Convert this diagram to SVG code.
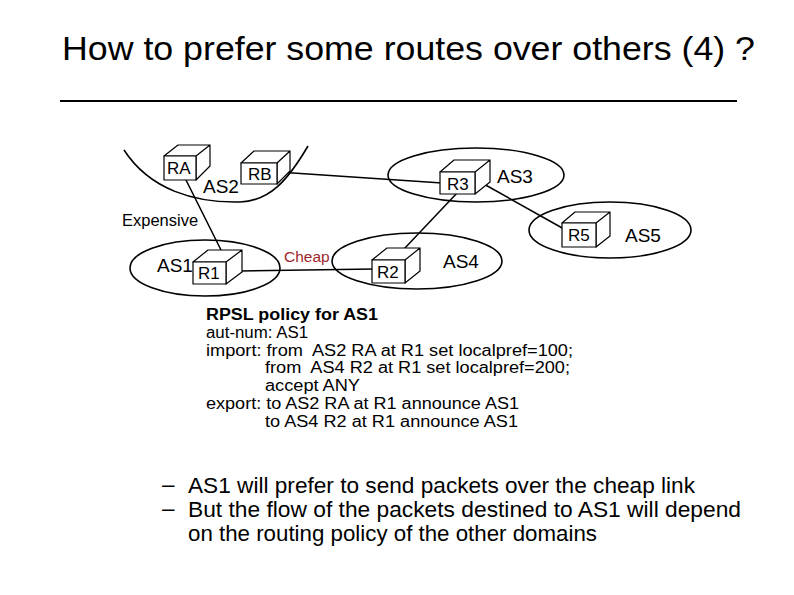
<svg xmlns="http://www.w3.org/2000/svg" width="794" height="595" viewBox="0 0 794 595">
<style>
text{font-family:"Liberation Sans",Arial,sans-serif;fill:#000}
.as{fill:none;stroke:#000;stroke-width:1.6}
.box{fill:#fff;stroke:#000;stroke-width:1.2;stroke-linejoin:round}
.lnk{stroke:#000;stroke-width:1.5;fill:none}
.rl{font-size:17px}
.al{font-size:19px}
.pol{font-size:16px}
.bul{font-size:22.5px}
</style>
<rect width="794" height="595" fill="#fff"/>
<text x="62" y="60" font-size="33" textLength="693" lengthAdjust="spacingAndGlyphs">How to prefer some routes over others (4) ?</text>
<line x1="60" y1="101" x2="737" y2="101" stroke="#000" stroke-width="2"/>

<g id="AS2"><path class="as" d="M124,150 C150,190 195,203 240,202 C270,201 288,180 308,146"/><text class="al" x="203" y="193">AS2</text></g>
<g id="AS3"><ellipse class="as" cx="476" cy="175" rx="88" ry="27"/><text class="al" x="497" y="183">AS3</text></g>
<g id="AS5"><ellipse class="as" cx="610" cy="230" rx="81" ry="28"/><text class="al" x="625" y="242">AS5</text></g>
<g id="AS4"><ellipse class="as" cx="417" cy="261" rx="85" ry="28"/><text class="al" x="443" y="268">AS4</text></g>
<g id="AS1"><ellipse class="as" cx="205" cy="268" rx="75" ry="28"/><text class="al" x="157" y="272">AS1</text></g>

<g id="connectors">
<line class="lnk" x1="185" y1="178" x2="222" y2="252"/>
<line class="lnk" x1="278" y1="172" x2="442" y2="183"/>
<line class="lnk" x1="482" y1="183" x2="564" y2="229"/>
<line class="lnk" x1="458" y1="192" x2="404" y2="249"/>
<line class="lnk" x1="240" y1="271" x2="374" y2="269"/>
<text x="122" y="226" font-size="16.5">Expensive</text>
<text x="284" y="262" font-size="15.5" style="fill:#a0282d">Cheap</text>
</g>

<g id="RA"><path class="box" d="M164,156 L178,145 L210,145 L196,156 Z M196,156 L210,145 L210,166 L196,180 Z"/><rect class="box" x="164" y="156" width="32" height="24"/><text class="rl" x="167" y="174">RA</text></g>
<g id="RB"><path class="box" d="M241,163 L254,151 L290,151 L277,163 Z M277,163 L290,151 L290,171 L277,184 Z"/><rect class="box" x="241" y="163" width="36" height="21"/><text class="rl" x="248" y="180">RB</text></g>
<g id="R3"><path class="box" d="M440,172 L454,160 L490,160 L475,172 Z M475,172 L490,160 L490,182 L475,194 Z"/><rect class="box" x="440" y="172" width="35" height="22"/><text class="rl" x="447" y="190">R3</text></g>
<g id="R5"><path class="box" d="M562,223 L575,212 L610,212 L596,223 Z M596,223 L610,212 L610,236 L596,247 Z"/><rect class="box" x="562" y="223" width="34" height="24"/><text class="rl" x="568" y="241">R5</text></g>
<g id="R2"><path class="box" d="M372,260 L387,248 L420,248 L405,260 Z M405,260 L420,248 L420,271 L405,283 Z"/><rect class="box" x="372" y="260" width="33" height="23"/><text class="rl" x="377" y="278">R2</text></g>
<g id="R1"><path class="box" d="M193,262 L208,250 L242,250 L226,262 Z M226,262 L242,250 L242,272 L226,284 Z"/><rect class="box" x="193" y="262" width="33" height="22"/><text class="rl" x="198" y="279">R1</text></g>

<g id="policy" class="pol">
<text x="206" y="320" font-weight="bold" textLength="172" lengthAdjust="spacingAndGlyphs">RPSL policy for AS1</text>
<text x="206" y="338" textLength="102" lengthAdjust="spacingAndGlyphs">aut-num: AS1</text>
<text x="206" y="356" xml:space="preserve" textLength="367" lengthAdjust="spacingAndGlyphs">import: from  AS2 RA at R1 set localpref=100;</text>
<text x="265" y="373" xml:space="preserve" textLength="305" lengthAdjust="spacingAndGlyphs">from  AS4 R2 at R1 set localpref=200;</text>
<text x="265" y="391" textLength="95" lengthAdjust="spacingAndGlyphs">accept ANY</text>
<text x="206" y="409" textLength="313" lengthAdjust="spacingAndGlyphs">export: to AS2 RA at R1 announce AS1</text>
<text x="265" y="427" textLength="253" lengthAdjust="spacingAndGlyphs">to AS4 R2 at R1 announce AS1</text>
</g>

<g id="bullets" class="bul">
<text x="162" y="492">–</text>
<text x="162" y="516">–</text>
<text x="188" y="493" textLength="507" lengthAdjust="spacingAndGlyphs">AS1 will prefer to send packets over the cheap link</text>
<text x="188" y="517" textLength="553" lengthAdjust="spacingAndGlyphs">But the flow of the packets destined to AS1 will depend</text>
<text x="188" y="541" textLength="409" lengthAdjust="spacingAndGlyphs">on the routing policy of the other domains</text>
</g>
</svg>
